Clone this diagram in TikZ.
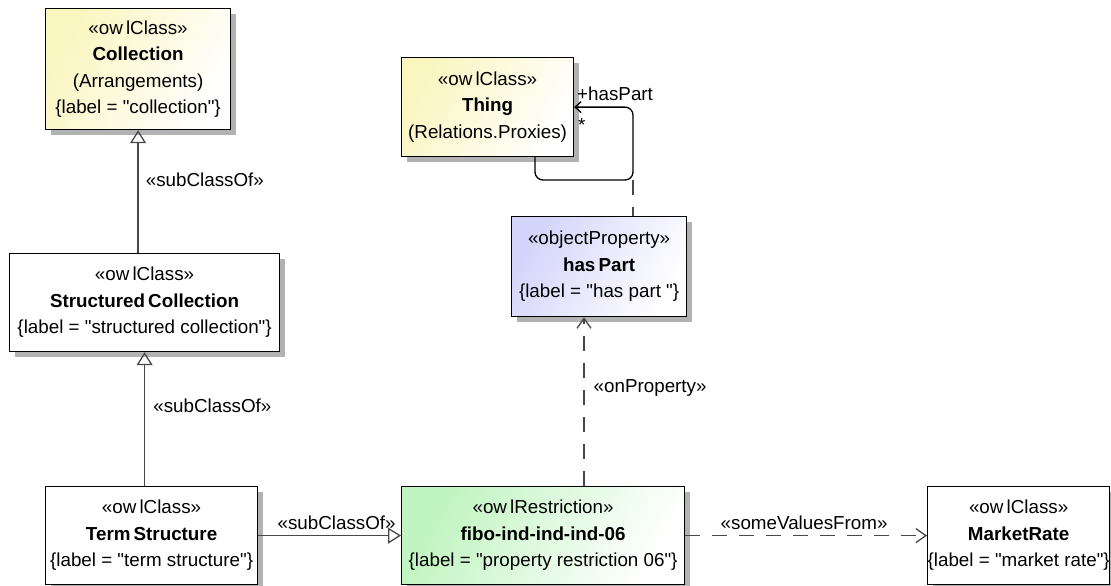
\documentclass[tikz,border=0pt]{standalone}
\usepackage{fontspec}
\setmainfont{Liberation Sans}[Ligatures=TeXOff]
\usetikzlibrary{arrows.meta}
\usetikzlibrary{shadows}

\definecolor{classyellow}{RGB}{250,246,192}
\definecolor{propviolet}{RGB}{212,212,250}
\definecolor{restrgreen}{RGB}{192,244,192}
\definecolor{linegray}{RGB}{72,72,72}
\definecolor{shadowgray}{RGB}{178,178,178}

\newcommand{\diagfont}{\fontsize{18.8}{26.5}\selectfont}

\tikzset{
	umlbox/.style={draw=black, line width=1.2pt, align=center, inner sep=0pt,
		anchor=north west, font=\diagfont,
		drop shadow={shadow xshift=5pt, shadow yshift=-5pt, fill=shadowgray, opacity=1}},
	plainbox/.style={umlbox, fill=white},
	yellowbox/.style={umlbox, left color=classyellow, right color=white, shading angle=60},
	violetbox/.style={umlbox, left color=propviolet, right color=white, shading angle=60},
	greenbox/.style={umlbox, left color=restrgreen, right color=white, shading angle=60},
	genline/.style={draw=linegray, line width=1.4pt,
		-{Triangle[open, length=13pt, width=16pt, line width=1.3pt]}},
	depline/.style={draw=linegray, line width=1.4pt, dash pattern=on 15pt off 12pt,
		-{Straight Barb[length=10pt, width=14pt, line width=1.3pt]}},
	lbl/.style={font=\diagfont, inner sep=0pt},
}

\begin{document}
\begin{tikzpicture}[x=1pt,y=-1pt]
	\useasboundingbox (0,0) rectangle (1111,586);

	% classes
	\node[yellowbox, minimum width=185pt, minimum height=121pt] (collection) at (45,8)
		{«ow\,lClass»\\\textbf{Collection}\\(Arrangements)\\\{label = "collection"\}};
	\node[plainbox, minimum width=270pt, minimum height=98pt] (structcoll) at (9,253)
		{«ow\,lClass»\\\textbf{Structured\,Collection}\\\{label = "structured collection"\}};
	\node[plainbox, minimum width=212pt, minimum height=98pt] (termstr) at (45,486)
		{«ow\,lClass»\\\textbf{Term\,Structure}\\\{label = "term structure"\}};
	\node[yellowbox, minimum width=172pt, minimum height=99pt] (thing) at (401,57)
		{«ow\,lClass»\\\textbf{Thing}\\(Relations.Proxies)};
	\node[violetbox, minimum width=175pt, minimum height=100pt] (haspart) at (511,216)
		{«objectProperty»\\\textbf{has\,Part}\\\{label = "has part "\}};
	\node[greenbox, minimum width=283pt, minimum height=98pt] (fibo) at (401,486)
		{«ow\,lRestriction»\\\textbf{fibo-ind-ind-ind-06}\\\{label = "property restriction 06"\}};
	\node[plainbox, minimum width=180pt, minimum height=98pt] (marketrate) at (927,486)
		{«ow\,lClass»\\\textbf{MarketRate}\\\{label = "market rate"\}};

	\coordinate (loopa) at (535,0);
	\coordinate (loopb) at (633,180);
	\coordinate (onprop) at (584,0);

	% generalizations
	\draw[genline] (structcoll.north -| collection.south) -- (collection.south)
		node[lbl, pos=0.6, right=7pt] (sub1) {«subClassOf»};
	\draw[genline] (termstr.north -| structcoll.south) -- (structcoll.south)
		node[lbl, pos=0.6, right=8pt] (sub2) {«subClassOf»};
	\draw[genline] (termstr.east) -- (fibo.west)
		node[lbl, midway, xshift=7pt, yshift=13pt] (sub3) {«subClassOf»};

	% restriction links
	\draw[depline] (fibo.east) -- (marketrate.west)
		node[lbl, midway, xshift=-2pt, yshift=13pt] (svf) {«someValuesFrom»};
	\draw[depline] (fibo.north -| onprop) -- (haspart.south -| onprop)
		node[lbl, pos=0.58, right=9pt] (onp) {«onProperty»};

	% hasPart association on Thing
	\draw[black, line width=1.3pt, rounded corners=8pt,
		-{Straight Barb[length=6pt, width=11pt, line width=1.3pt]}]
		(thing.south -| loopa) |- (loopb) |- (thing.east);
	\draw[linegray, line width=1.4pt, dash pattern=on 15pt off 12pt] (loopb) -- (haspart.north -| loopb);
	\node[lbl, anchor=base west] (role) at (577,100) {+hasPart};
	\node[lbl, anchor=base west] (mult) at (578,131) {*};
\end{tikzpicture}
\end{document}
